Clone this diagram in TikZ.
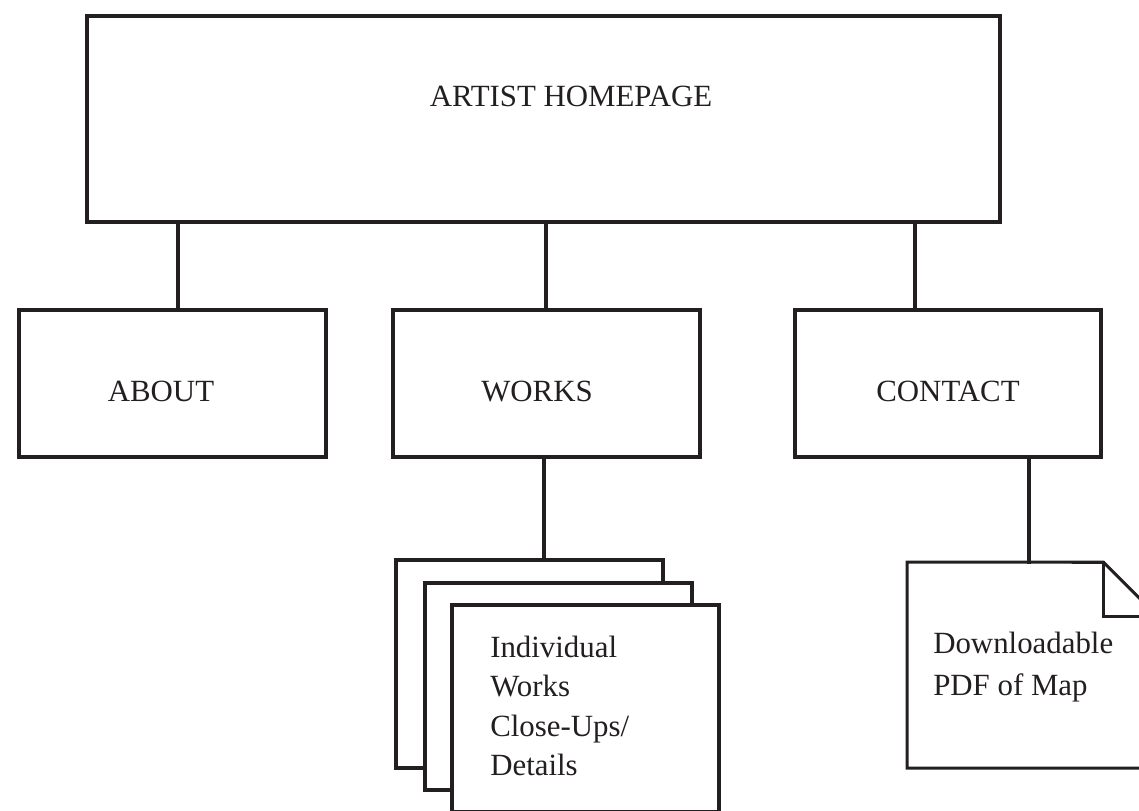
\documentclass[tikz,border=0pt]{standalone}
\usepackage{fontspec}
\setmainfont{Liberation Serif}
\definecolor{ink}{HTML}{231F20}
\begin{document}
\begin{tikzpicture}[scale=2.54]%
% site map, coordinates in inches (100px = 1in)
\ifx\sitelw\undefined\newdimen\sitelw\fi
\global\def\sitedraw{\draw[line width=\sitelw,draw=ink,line cap=rect]}
\global\def\sitestop{;}
\sitelw=2.2bp
\tikzset{pagebox/.style={draw=ink,line width=\sitelw,fill=white,rectangle,
  inner sep=0pt,outer sep=0pt,anchor=north west},
 lbl/.style={text=ink,inner sep=0pt,anchor=base,
  font=\fontsize{22.3}{28.3}\selectfont},
 note/.style={text=ink,inner sep=0pt,anchor=north west,align=left}}
\useasboundingbox (0,0) rectangle (11.39,-8.11);
\clip (0,0) rectangle (11.39,-8.11);
% top level
\node[pagebox,minimum width=9.13in,minimum height=2.06in] (home) at (0.87,-0.16) {};
\node[lbl] (homet) at (5.71,-1.06) {ARTIST HOMEPAGE};
% second level
\node[pagebox,minimum width=3.07in,minimum height=1.47in] (about) at (0.19,-3.10) {};
\node[lbl] (aboutt) at (1.61,-4.01) {ABOUT};
\node[pagebox,minimum width=3.07in,minimum height=1.47in] (works) at (3.93,-3.10) {};
\node[lbl] (workst) at (5.37,-4.01) {WORKS};
\node[pagebox,minimum width=3.06in,minimum height=1.47in] (contact) at (7.95,-3.10) {};
\node[lbl] (contactt) at (9.48,-4.01) {CONTACT};
\sitedraw (1.78,0 |- home.south) -- (1.78,0 |- about.north)\sitestop
\sitedraw (5.46,0 |- home.south) -- (5.46,0 |- works.north)\sitestop
\sitedraw (9.15,0 |- home.south) -- (9.15,0 |- contact.north)\sitestop
% works pages
\node[pagebox,minimum width=2.67in,minimum height=2.08in] (pA) at (3.96,-5.60) {};
\node[pagebox,minimum width=2.67in,minimum height=2.07in] (pB) at (4.25,-5.83) {};
\node[pagebox,minimum width=2.67in,minimum height=2.07in] (pC) at (4.52,-6.05) {};
\node[note,font=\fontsize{22.3}{28.3}\selectfont] (pCt) at (4.90,-6.36)
 {Individual\\Works\\Close-Ups/\\Details};
\sitedraw (5.44,0 |- works.south) -- (5.44,0 |- pA.north)\sitestop
% downloadable document, dog-eared
\node[rectangle,inner sep=0pt,outer sep=0pt,anchor=north west,
 minimum width=2.50in,minimum height=2.06in] (pdf) at (9.07,-5.62) {};
\coordinate (fold) at ([shift={(-0.54,0)}]pdf.north east);
\coordinate (foldb) at ([shift={(0,-0.54)}]pdf.north east);
\sitedraw (pdf.north west) -- (fold) -- (foldb) -- (pdf.south east)
 -- (pdf.south west) -- cycle\sitestop
\sitedraw (fold) |- (foldb)\sitestop
\node[note,font=\fontsize{22.3}{30.2}\selectfont] (pdft) at (9.33,-6.32)
 {Downloadable\\PDF of Map};
\sitedraw (10.29,0 |- contact.south) -- (10.29,0 |- pdf.north)\sitestop
\end{tikzpicture}
\end{document}
